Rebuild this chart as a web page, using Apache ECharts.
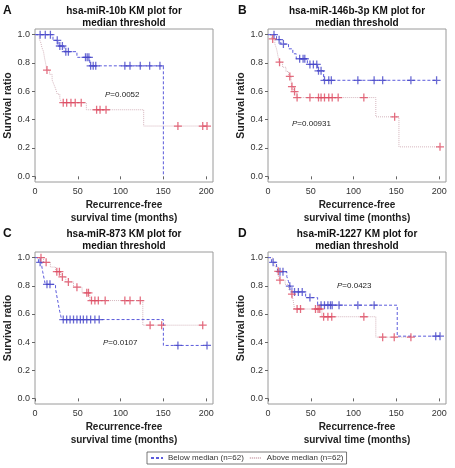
<!DOCTYPE html>
<html>
<head>
<meta charset="utf-8">
<script src="https://cdn.jsdelivr.net/npm/echarts@6/dist/echarts.min.js"></script>
<style>
  html, body { margin: 0; padding: 0; background: #fff; }
  #chart { width: 455px; height: 468px; }
</style>
</head>
<body>
<div id="chart"></div>
<script>
// labels
var panelLetters = ["A", "B", "C", "D"];
var panelTitles = [
  "hsa-miR-10b KM plot for\nmedian threshold",
  "hsa-miR-146b-3p KM plot for\nmedian threshold",
  "hsa-miR-873 KM plot for\nmedian threshold",
  "hsa-miR-1227 KM plot for\nmedian threshold"
];
var pValues = ["0.0052", "0.00931", "0.0107", "0.0423"];
var xTicks = [0, 50, 100, 150, 200];
var yTicks = [0, 0.2, 0.4, 0.6, 0.8, 1.0];
var groupNames = ["Below median (n=62)", "Above median (n=62)"];

// KM steps: [time, survival after the drop]; censor marks: [time, survival]
var aBelowSteps = [[0, 1], [21, 0.96], [27, 0.92], [34, 0.88], [49, 0.84], [64, 0.78], [150, 0]];
var aBelowCensor = [[6, 1], [12, 1], [18, 1], [26, 0.96], [29, 0.92], [32, 0.92], [36, 0.88], [39, 0.88],
  [59, 0.84], [61, 0.84], [63, 0.84], [65, 0.78], [68, 0.78], [71, 0.78], [105, 0.78], [111, 0.78],
  [123, 0.78], [134, 0.78], [146, 0.78]];
var aAboveSteps = [[0, 1], [5, 0.97], [7, 0.94], [8, 0.91], [10, 0.88], [11, 0.84], [12, 0.81], [13, 0.78],
  [13.5, 0.75], [17, 0.72], [20, 0.68], [22, 0.65], [24, 0.62], [26, 0.58], [29, 0.55], [31, 0.52],
  [60, 0.47], [127, 0.355], [201, 0.355]];
var aAboveCensor = [[14, 0.75], [33, 0.52], [37, 0.52], [42, 0.52], [47, 0.52], [54, 0.52], [72, 0.47],
  [76, 0.47], [83, 0.47], [167, 0.355], [196, 0.355], [201, 0.355]];

var bBelowSteps = [[0, 1], [10, 0.965], [15, 0.934], [24, 0.9], [29, 0.865], [33, 0.83], [46, 0.79],
  [58, 0.745], [65, 0.678], [197, 0.678]];
var bBelowCensor = [[7, 1], [13, 0.965], [18, 0.934], [37, 0.83], [41, 0.83], [43, 0.83], [49, 0.79],
  [53, 0.79], [57, 0.79], [59, 0.745], [62, 0.745], [66, 0.678], [71, 0.678], [74, 0.678], [105, 0.678],
  [124, 0.678], [134, 0.678], [167, 0.678], [197, 0.678]];
var bAboveSteps = [[0, 1], [4, 0.97], [8, 0.935], [10, 0.9], [11, 0.87], [12, 0.838], [13, 0.806],
  [17, 0.77], [21, 0.74], [24, 0.705], [27, 0.67], [27.5, 0.634], [30, 0.598], [33, 0.556],
  [126, 0.42], [153, 0.208], [201, 0.208]];
var bAboveCensor = [[5.5, 0.97], [13.5, 0.806], [25.5, 0.705], [28, 0.634], [31, 0.598], [34, 0.556],
  [49, 0.556], [59, 0.556], [62, 0.556], [66, 0.556], [71, 0.556], [75, 0.556], [82, 0.556],
  [112, 0.556], [148, 0.42], [201, 0.208]];

var cBelowSteps = [[0, 1], [4, 0.967], [8, 0.935], [9, 0.9], [10, 0.87], [11, 0.84], [12, 0.81],
  [24, 0.78], [25, 0.745], [26, 0.71], [27, 0.68], [28, 0.645], [29, 0.615], [30, 0.59], [31, 0.56],
  [150, 0.376], [201, 0.376]];
var cBelowCensor = [[6, 0.967], [14, 0.81], [17.5, 0.81], [33, 0.56], [37, 0.56], [41, 0.56], [45, 0.56],
  [49, 0.56], [53, 0.56], [56.5, 0.56], [60.5, 0.56], [65, 0.56], [70, 0.56], [75, 0.56],
  [167, 0.376], [201, 0.376]];
var cAboveSteps = [[0, 1], [10, 0.967], [18, 0.933], [24, 0.9], [30, 0.863], [36, 0.827], [45, 0.79],
  [55, 0.75], [64, 0.695], [126, 0.52], [196, 0.52]];
var cAboveCensor = [[7, 1], [13, 0.967], [25.5, 0.9], [28.5, 0.9], [32, 0.863], [39, 0.827], [49, 0.79],
  [60.5, 0.75], [62.5, 0.75], [66, 0.695], [70, 0.695], [74, 0.695], [82, 0.695], [105, 0.695],
  [111, 0.695], [123, 0.695], [134.5, 0.52], [148, 0.52], [196, 0.52]];

var dBelowSteps = [[0, 1], [4, 0.967], [10, 0.933], [12, 0.9], [22, 0.865], [24, 0.83], [25, 0.797],
  [28, 0.756], [44, 0.716], [58, 0.662], [151, 0.442], [201, 0.442]];
var dBelowCensor = [[6, 0.967], [14, 0.9], [17.5, 0.9], [25.5, 0.797], [31, 0.756], [35.5, 0.756],
  [40, 0.756], [49, 0.716], [62, 0.662], [66, 0.662], [70, 0.662], [73, 0.662], [75, 0.662],
  [83, 0.662], [105, 0.662], [124, 0.662], [196, 0.442], [201, 0.442]];
var dAboveSteps = [[0, 1], [5, 0.967], [8, 0.935], [11, 0.903], [12.5, 0.87], [13.5, 0.84], [20, 0.81],
  [24, 0.775], [27, 0.74], [29, 0.71], [30, 0.675], [31, 0.635], [63, 0.58], [126, 0.435], [167, 0.435]];
var dAboveCensor = [[12, 0.903], [14, 0.84], [28, 0.74], [34, 0.635], [38, 0.635], [55.5, 0.635],
  [58.5, 0.635], [60.5, 0.635], [65, 0.58], [70, 0.58], [74.5, 0.58], [112, 0.58], [134, 0.435],
  [147.5, 0.435], [167, 0.435]];

var belowSteps = [aBelowSteps, bBelowSteps, cBelowSteps, dBelowSteps];
var belowCensor = [aBelowCensor, bBelowCensor, cBelowCensor, dBelowCensor];
var aboveSteps = [aAboveSteps, bAboveSteps, cAboveSteps, dAboveSteps];
var aboveCensor = [aAboveCensor, bAboveCensor, cAboveCensor, dAboveCensor];

var chart = echarts.init(document.getElementById("chart"));

var font = "'Liberation Sans', Arial, sans-serif";
var blueLine = "#5b5bdc", blueMark = "#4545c8";
var redLine = "#d4b4bc", redMark = "#dd4a60";
var plus = "path://M0,4.2L10,4.2L10,5.8L0,5.8Z M4.2,0L5.8,0L5.8,10L4.2,10Z";

var boxes = [
  { left: 35, top: 29, width: 178, height: 153 },
  { left: 268, top: 29, width: 178, height: 153 },
  { left: 35, top: 252, width: 178, height: 152 },
  { left: 268, top: 252, width: 178, height: 152 }
];
var pPos = [[105, 95], [292, 124], [103, 343], [337, 286]];

var grid = [], xAxis = [], yAxis = [], series = [], graphic = [];

boxes.forEach(function (b, i) {
  grid.push({
    left: b.left, top: b.top, width: b.width, height: b.height,
    show: true, borderColor: "#9a9a9a", borderWidth: 1, backgroundColor: "transparent"
  });
  xAxis.push({
    gridIndex: i, type: "value", min: 0, max: 208,
    axisLine: { show: false },
    axisTick: { show: true, length: 3, customValues: xTicks, lineStyle: { color: "#666" } },
    axisLabel: { customValues: xTicks, fontSize: 9, color: "#333", margin: 5, fontFamily: font },
    splitLine: { show: false },
    name: "Recurrence-free\nsurvival time (months)",
    nameLocation: "middle", nameGap: 17,
    nameTextStyle: { fontSize: 10, fontWeight: "bold", color: "#222", lineHeight: 13, fontFamily: font }
  });
  yAxis.push({
    gridIndex: i, type: "value", min: -0.04, max: 1.04,
    axisLine: { show: false },
    axisTick: { show: true, length: 3, customValues: yTicks, lineStyle: { color: "#666" } },
    axisLabel: {
      customValues: yTicks, fontSize: 9, color: "#333", margin: 5, fontFamily: font,
      formatter: function (v) { return v.toFixed(1); }
    },
    splitLine: { show: false },
    name: "Survival ratio", nameLocation: "middle", nameGap: 21,
    nameTextStyle: { fontSize: 10.5, fontWeight: "bold", color: "#222", fontFamily: font }
  });

  series.push({
    type: "line", name: groupNames[0], xAxisIndex: i, yAxisIndex: i,
    data: belowSteps[i], step: "end", symbol: "none",
    lineStyle: { color: blueLine, width: 1, type: [3, 2] },
    itemStyle: { color: blueLine }, z: 3
  });
  series.push({
    type: "line", name: groupNames[1], xAxisIndex: i, yAxisIndex: i,
    data: aboveSteps[i], step: "end", symbol: "none",
    lineStyle: { color: redLine, width: 1, type: [1, 1] },
    itemStyle: { color: redLine }, z: 2
  });
  series.push({
    type: "scatter", xAxisIndex: i, yAxisIndex: i, data: belowCensor[i],
    symbol: plus, symbolSize: 8, itemStyle: { color: blueMark }, z: 4
  });
  series.push({
    type: "scatter", xAxisIndex: i, yAxisIndex: i, data: aboveCensor[i],
    symbol: plus, symbolSize: 8, itemStyle: { color: redMark }, z: 4
  });

  var cx = b.left + b.width / 2;
  var ty = b.top - 24;
  graphic.push({
    type: "text", x: cx, y: ty,
    style: {
      text: panelTitles[i], align: "center", verticalAlign: "top",
      font: "bold 10px " + font, lineHeight: 12, fill: "#111"
    }
  });
  graphic.push({
    type: "text", x: b.left - 32 + (i % 2) * 2, y: ty,
    style: { text: panelLetters[i], font: "bold 12px " + font, fill: "#111", verticalAlign: "top" }
  });
  graphic.push({
    type: "text", x: pPos[i][0], y: pPos[i][1],
    style: {
      text: "{i|P}=" + pValues[i], verticalAlign: "middle",
      font: "8px " + font, fill: "#222",
      rich: { i: { fontStyle: "italic", fontSize: 8, fontFamily: font, fill: "#222" } }
    }
  });
});

var option = {
  animation: false,
  grid: grid,
  xAxis: xAxis,
  yAxis: yAxis,
  series: series,
  graphic: graphic,
  legend: {
    data: groupNames,
    left: 147, top: 452,
    itemWidth: 12, itemHeight: 6, itemGap: 5,
    padding: [2, 3],
    borderColor: "#555", borderWidth: 0.8,
    itemStyle: { opacity: 0 },
    textStyle: { fontSize: 8, color: "#333", fontFamily: font }
  }
};
chart.setOption(option);
</script>
</body>
</html>
